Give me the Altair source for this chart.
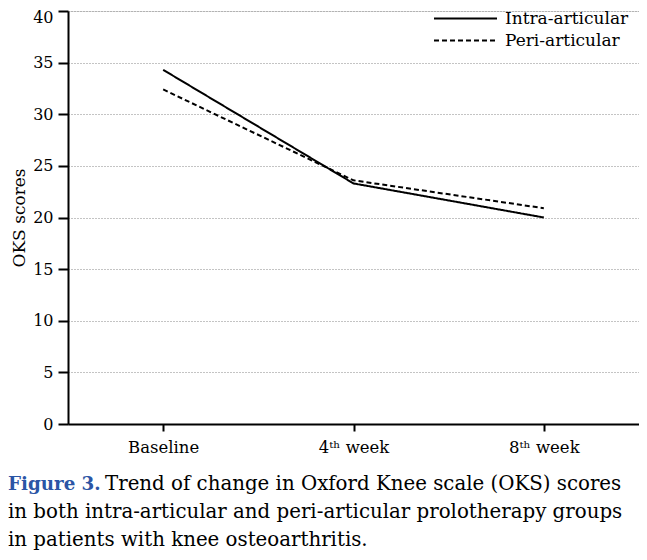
import altair as alt
import pandas as pd

timepoints = ["Baseline", "4ᵗʰ week", "8ᵗʰ week"]
groups = ["Intra-articular", "Peri-articular"]
intra = [34.3, 23.3, 20.0]
peri = [32.4, 23.6, 20.9]
y_ticks = [0, 5, 10, 15, 20, 25, 30, 35, 40]

caption_label = "Figure 3."
caption_lines = [
    "Trend of change in Oxford Knee scale (OKS) scores",
    "in both intra-articular and peri-articular prolotherapy groups",
    "in patients with knee osteoarthritis.",
]

rows = []
for g, vals in zip(groups, [intra, peri]):
    for t, v in zip(timepoints, vals):
        rows.append({"time": t, "group": g, "score": v})
df = pd.DataFrame(rows)
one = pd.DataFrame({"k": [0]})

FONT = "DejaVu Serif"

lines = alt.Chart(df).mark_line(color="black", strokeWidth=2).encode(
    x=alt.X("time:N", sort=timepoints,
            scale=alt.Scale(type="point", padding=0.5),
            axis=alt.Axis(title=None, labelAngle=0, labelFont=FONT, labelFontSize=16.5,
                          labelColor="black", tickSize=7, tickWidth=2, tickColor="black",
                          domainColor="black", domainWidth=2, labelPadding=8, grid=False)),
    y=alt.Y("score:Q", scale=alt.Scale(domain=[0, 40], nice=False, zero=True),
            axis=alt.Axis(values=y_ticks, title="OKS scores", titleFont=FONT, titleFontSize=17,
                          titleFontWeight="normal", titleColor="black", titleX=-57,
                          titleBaseline="top",
                          labelFont=FONT, labelFontSize=16, labelColor="black",
                          labelOffset=alt.condition("datum.value == 40", alt.value(6), alt.value(0)),
                          tickSize=10, tickWidth=2, tickColor="black", labelPadding=5,
                          domainColor="black", domainWidth=2,
                          grid=True, gridDash=[1, 2], gridColor="#888888", gridWidth=1)),
    strokeDash=alt.StrokeDash("group:N", sort=groups,
                              scale=alt.Scale(domain=groups, range=[[1, 0], [5, 3]]),
                              legend=alt.Legend(title=None, orient="none", legendX=386, legendY=-4,
                                                padding=0,
                                                symbolType="M-3,0H3", symbolSize=441,
                                                symbolStrokeWidth=2, symbolStrokeColor="black",
                                                symbolFillColor="transparent",
                                                labelFont=FONT, labelFontSize=17, labelColor="black",
                                                rowPadding=2, labelOffset=28)),
)

cap_style = dict(font=FONT, fontSize=19.8, color="black", align="left", baseline="alphabetic")

cap_head = alt.Chart(one).mark_text(
    text=caption_label, font=FONT, fontSize=18.3, fontWeight="bold", color="#2b55a5",
    align="left", baseline="alphabetic"
).encode(x=alt.value(-60), y=alt.value(479))

cap1 = alt.Chart(one).mark_text(text=caption_lines[0], **cap_style).encode(
    x=alt.value(37), y=alt.value(479))
cap2 = alt.Chart(one).mark_text(text=caption_lines[1], **cap_style).encode(
    x=alt.value(-60), y=alt.value(507))
cap3 = alt.Chart(one).mark_text(text=caption_lines[2], **cap_style).encode(
    x=alt.value(-60), y=alt.value(535))

chart = alt.layer(lines, cap_head, cap1, cap2, cap3).properties(
    width=571, height=413,
    autosize=alt.AutoSizeParams(type="none"),
    padding={"left": 60, "top": 3, "right": 0, "bottom": 128},
).configure_view(stroke=None).configure(background="white")

chart.save("out.html", embed_options={"renderer": "svg", "actions": False})
